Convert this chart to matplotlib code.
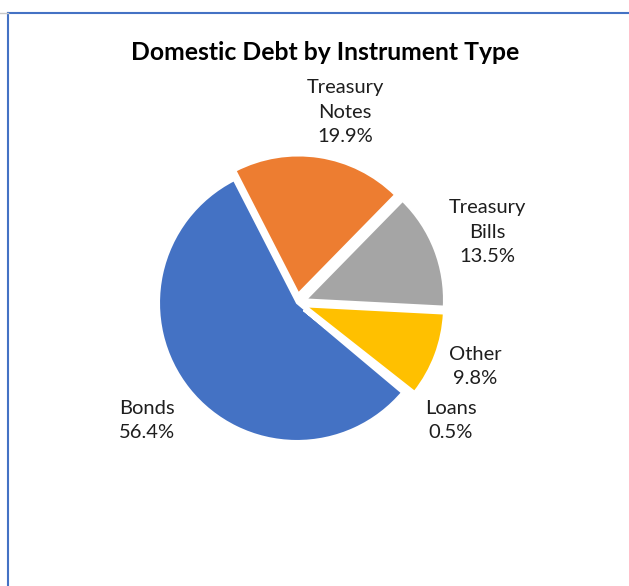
import matplotlib
matplotlib.use("Agg")
import matplotlib.pyplot as plt
from matplotlib.lines import Line2D

categories = ["Bonds", "Treasury\nNotes", "Treasury\nBills", "Other", "Loans"]
values = [56.4, 19.9, 13.5, 9.8, 0.5]
colors = ["#4472C4", "#ED7D31", "#A5A5A5", "#FFC000", "#5B9BD5"]
explode_frac = [0.0, 0.07, 0.07, 0.07, 0.07]
title = "Domestic Debt by Instrument Type"

# label anchor positions (pixel space, y from top) mimicking Excel best-fit placement
label_pos = [(147, 421), (345, 112), (487, 232), (475, 367), (451, 421)]

W, H = 629, 586
fig = plt.figure(figsize=(W / 100, H / 100), dpi=100)
fig.patch.set_facecolor("white")
ax = fig.add_axes([0, 0, 1, 1])

cx, cy, r = 297, H - 303, 138
wedges, _ = ax.pie(values, colors=colors, explode=[e * r for e in explode_frac],
                   startangle=-40, counterclock=False, center=(cx, cy), radius=r,
                   frame=True, wedgeprops=dict(edgecolor="white", linewidth=1.5))
# the tiny Loans slice is swallowed by the white slice borders, as in the original
wedges[-1].set_linewidth(3.5)
wedges[-1].set_zorder(wedges[-1].get_zorder() + 1)
ax.set_xlim(0, W)
ax.set_ylim(0, H)
ax.set_aspect("equal")
ax.axis("off")

for cat, val, (x, y) in zip(categories, values, label_pos):
    ax.text(x, H - y, f"{cat}\n{val:.1f}%", ha="center", va="center",
            fontsize=14.5, family="Lato", color="#1e1e1e", linespacing=1.5)

ax.text(325, H - 52, title, ha="center", va="center", fontsize=17.8,
        family="Lato", fontweight="bold", color="black")

# chart frame
fig.add_artist(Line2D([8 / W, 1], [1 - 13 / H, 1 - 13 / H], color="#4472C4", lw=1.5))
fig.add_artist(Line2D([8 / W, 8 / W], [0, 1 - 13 / H], color="#4472C4", lw=1.5))
fig.add_artist(Line2D([0, 8 / W], [1 - 13 / H, 1 - 13 / H], color="#C8C8C8", lw=1.0))

fig.savefig("out.png", dpi=100, facecolor="white")
